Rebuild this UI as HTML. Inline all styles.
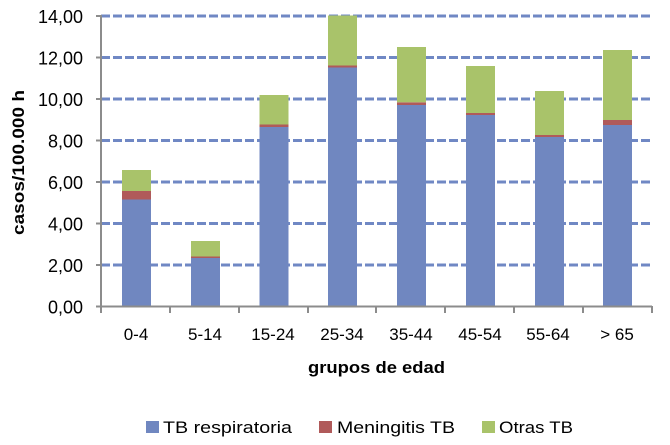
<!DOCTYPE html>
<html><head><meta charset="utf-8"><style>body{margin:0;background:#fff}svg{display:block}</style></head><body>
<svg width="670" height="445" xmlns="http://www.w3.org/2000/svg" font-family="Liberation Sans, sans-serif">
<g stroke="#7088C4" stroke-width="3" stroke-dasharray="9,3">
<line x1="101" y1="16" x2="652" y2="16"/>
<line x1="101" y1="57.5" x2="652" y2="57.5"/>
<line x1="101" y1="99" x2="652" y2="99"/>
<line x1="101" y1="140.5" x2="652" y2="140.5"/>
<line x1="101" y1="182" x2="652" y2="182"/>
<line x1="101" y1="223.5" x2="652" y2="223.5"/>
<line x1="101" y1="265" x2="652" y2="265"/>
</g>
<g stroke="#8c8c8c" stroke-width="2">
<line x1="101" y1="15" x2="101" y2="313"/>
<line x1="96" y1="16" x2="101" y2="16"/><line x1="96" y1="57.5" x2="101" y2="57.5"/><line x1="96" y1="99" x2="101" y2="99"/><line x1="96" y1="140.5" x2="101" y2="140.5"/><line x1="96" y1="182" x2="101" y2="182"/><line x1="96" y1="223.5" x2="101" y2="223.5"/><line x1="96" y1="265" x2="101" y2="265"/>
<line x1="170" y1="306" x2="170" y2="313"/><line x1="239" y1="306" x2="239" y2="313"/><line x1="308" y1="306" x2="308" y2="313"/><line x1="376" y1="306" x2="376" y2="313"/><line x1="445" y1="306" x2="445" y2="313"/><line x1="514" y1="306" x2="514" y2="313"/><line x1="583" y1="306" x2="583" y2="313"/><line x1="652" y1="306" x2="652" y2="313"/>
</g>
<g font-size="18" text-anchor="end" fill="#000">
<text x="83" y="23">14,00</text><text x="83" y="64.5">12,00</text><text x="83" y="106">10,00</text><text x="83" y="147.5">8,00</text><text x="83" y="189">6,00</text><text x="83" y="230.5">4,00</text><text x="83" y="272">2,00</text><text x="83" y="313.5">0,00</text>
</g>
<g font-size="17" text-anchor="middle" fill="#000">
<text x="136" y="340">0-4</text><text x="205" y="340">5-14</text><text x="273" y="340">15-24</text><text x="342" y="340">25-34</text><text x="411" y="340">35-44</text><text x="480" y="340">45-54</text><text x="548" y="340">55-64</text><text x="617" y="340">&gt; 65</text>
</g>
<text x="308" y="373" font-size="17" font-weight="bold" textLength="137" lengthAdjust="spacingAndGlyphs">grupos de edad</text>
<text transform="translate(24,235) rotate(-90)" font-size="17" font-weight="bold" textLength="145" lengthAdjust="spacingAndGlyphs">casos/100.000 h</text>
<rect x="146" y="421" width="13" height="12" fill="#7087C0"/>
<text x="163" y="433" font-size="17" textLength="129" lengthAdjust="spacingAndGlyphs">TB respiratoria</text>
<rect x="319" y="421" width="13" height="12" fill="#B05A5A"/>
<text x="337" y="433" font-size="17" textLength="118" lengthAdjust="spacingAndGlyphs">Meningitis TB</text>
<rect x="482" y="421" width="13" height="12" fill="#A9C36A"/>
<text x="499" y="433" font-size="17" textLength="74" lengthAdjust="spacingAndGlyphs">Otras TB</text>
<g>
<rect x="122" y="199.5" width="29" height="107" fill="#7087C0"/><rect x="122" y="191" width="29" height="8.5" fill="#B05A5A"/><rect x="122" y="170" width="29" height="21" fill="#A9C36A"/>
<rect x="191" y="258" width="29" height="48.5" fill="#7087C0"/><rect x="191" y="256.5" width="29" height="1.5" fill="#B05A5A"/><rect x="191" y="241" width="29" height="15.5" fill="#A9C36A"/>
<rect x="259.5" y="127" width="29" height="179.5" fill="#7087C0"/><rect x="259.5" y="124.5" width="29" height="2.5" fill="#B05A5A"/><rect x="259.5" y="95" width="29" height="29.5" fill="#A9C36A"/>
<rect x="328" y="67.5" width="29" height="239" fill="#7087C0"/><rect x="328" y="65.5" width="29" height="2" fill="#B05A5A"/><rect x="328" y="15.5" width="29" height="50" fill="#A9C36A"/>
<rect x="397" y="105" width="29" height="201.5" fill="#7087C0"/><rect x="397" y="102.3" width="29" height="2.7" fill="#B05A5A"/><rect x="397" y="47" width="29" height="55.3" fill="#A9C36A"/>
<rect x="466" y="115" width="29" height="191.5" fill="#7087C0"/><rect x="466" y="113" width="29" height="2" fill="#B05A5A"/><rect x="466" y="66" width="29" height="47" fill="#A9C36A"/>
<rect x="535" y="137" width="29" height="169.5" fill="#7087C0"/><rect x="535" y="135" width="29" height="2" fill="#B05A5A"/><rect x="535" y="91" width="29" height="44" fill="#A9C36A"/>
<rect x="603" y="125" width="29" height="181.5" fill="#7087C0"/><rect x="603" y="120" width="29" height="5" fill="#B05A5A"/><rect x="603" y="50" width="29" height="70" fill="#A9C36A"/>
</g>
<line x1="96" y1="306.5" x2="652" y2="306.5" stroke="#8c8c8c" stroke-width="2"/>
</svg>
</body></html>
